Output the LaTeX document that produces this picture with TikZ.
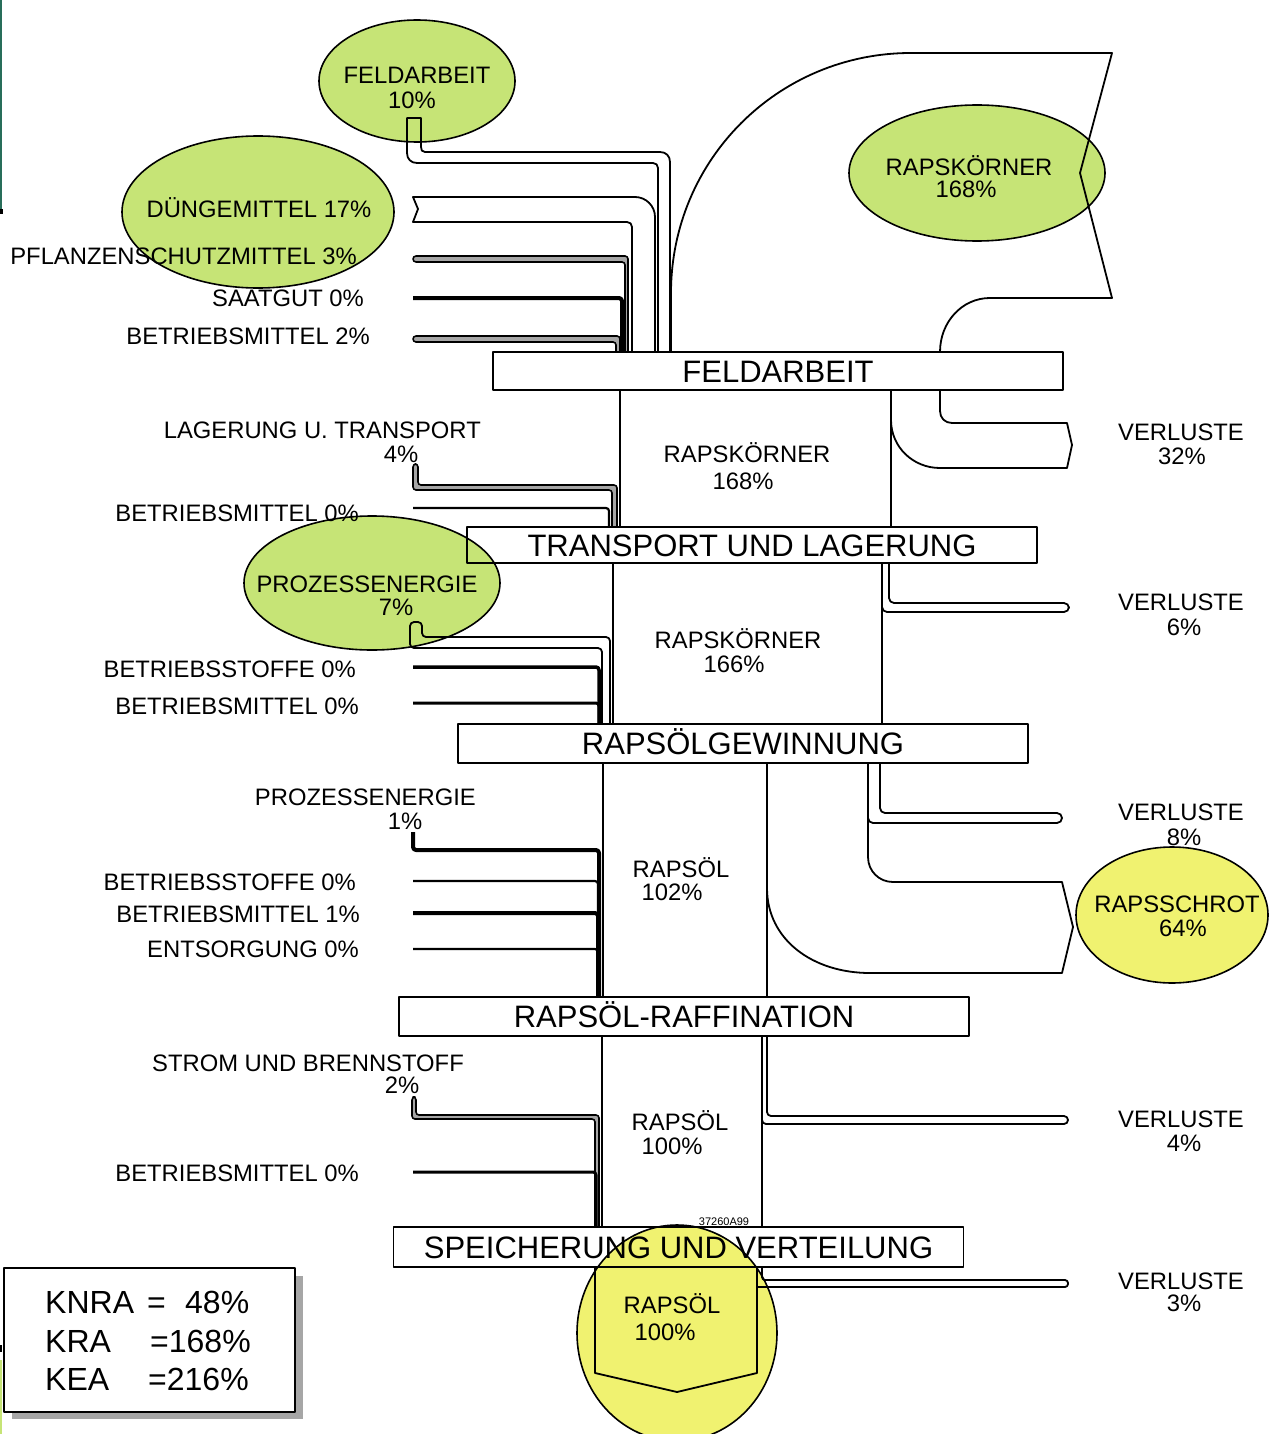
\documentclass[tikz,border=0pt]{standalone}
\usepackage{fontspec}
\setmainfont{Liberation Sans}
\definecolor{lgreen}{RGB}{198,228,118}
\definecolor{lyellow}{RGB}{240,242,112}
\definecolor{edgeteal}{RGB}{40,110,90}
\begin{document}
\begin{tikzpicture}[x=1pt,y=-1pt,line join=round,
  ln/.style={draw=black,line width=1.8pt},
  thinband/.style={draw=black,line width=1.6pt,fill=black!35,rounded corners=3pt},
  feed/.style={draw=black,line width=#1,rounded corners=3pt},
  bar/.style={draw=black,line width=1.8pt,fill=white,minimum width=570pt,
    font=\fontsize{31}{31}\selectfont,text height=22pt,text depth=0pt,inner sep=0pt},
  lab/.style={font=\fontsize{23.8}{24}\selectfont,text height=16.5pt,text depth=0pt,inner sep=0pt},
  tiny/.style={font=\fontsize{11}{11}\selectfont,inner sep=0pt},
  leg/.style={font=\fontsize{32}{32}\selectfont,inner sep=0pt},
  gell/.style={draw=black,line width=1.6pt,fill=lgreen,blend mode=multiply},
  yell/.style={draw=black,line width=1.6pt,fill=lyellow,blend mode=multiply}]
\useasboundingbox (0,0) rectangle (1270,1434);
% edge artifacts
\fill[edgeteal] (0,0) rectangle (2,210);
\fill[black] (0,209) rectangle (3,214);
\fill[black] (0,1345) rectangle (2,1352);
\fill[lgreen] (0,1360) rectangle (2,1434);

% ---- main columns
\draw[ln] (620,390) -- (620,527);
\draw[ln] (891,390) -- (891,527);
\draw[ln] (613,563) -- (613,724);
\draw[ln] (882,563) -- (882,724);
\draw[ln] (603,763) -- (603,997);
\draw[ln] (767,763) -- (767,997);
\draw[ln] (602,1036) -- (602,1227);
\draw[ln] (762,1036) -- (762,1227);

% ---- product flow RAPSKOERNER 168%
\draw[ln] (671,352) -- (671,293) .. controls (671,160) and (778,53) .. (911,53) -- (1112,53) -- (1080,173) -- (1112,298) -- (990,298) .. controls (962,298) and (940,322) .. (940,352);

% ---- outputs
\draw[ln] (940,390) -- (940,411) .. controls (940,418) and (945,423) .. (952,423) -- (1067,423) -- (1072,445) -- (1067,468) -- (940,468) .. controls (913,468) and (891,447) .. (891,420);
\draw[ln,rounded corners=5pt] (889,563) -- (889,603) -- (1069,603) -- (1069,612) -- (882,612) -- (882,600);
\draw[ln,rounded corners=5pt] (880,763) -- (880,813) -- (1062,813) -- (1062,823) -- (868,823) -- (868,812);
\draw[ln] (868,763) -- (868,857) .. controls (868,871) and (879,882) .. (893,882) -- (1062,882) -- (1073,927) -- (1062,973) -- (870,973) .. controls (813,973) and (767,940) .. (767,888);
\draw[ln,rounded corners=4pt] (767,1036) -- (767,1116) -- (1068,1116) -- (1068,1124) -- (762,1124) -- (762,1114);
\draw[ln,rounded corners=3pt] (762,1267) -- (762,1280) -- (1068,1280) -- (1068,1287) -- (757,1287);
\draw[ln] (595,1267) -- (595,1373) -- (677,1392) -- (757,1373) -- (757,1267);

% ---- inputs stage 1
\draw[ln] (658,352) -- (658,168) .. controls (658,165) and (656,163) .. (653,163) -- (417,163) .. controls (411,163) and (407,159) .. (407,153) -- (407,118) -- (421,118) -- (421,147) .. controls (421,150) and (422,152) .. (425,152) -- (660,152) .. controls (666,152) and (670,156) .. (670,162) -- (670,352);
\draw[ln] (632,352) -- (632,227) .. controls (632,224) and (630,222) .. (627,222) -- (413,222) -- (418,209) -- (413,197) -- (635,197) .. controls (646,197) and (655,206) .. (655,217) -- (655,352);
\draw[thinband] (625,352) -- (625,262) -- (413,262) -- (413,256) -- (628,256) -- (628,352);
\draw[feed=4pt] (413,298) -- (622,298) -- (622,352);
\draw[thinband] (616,352) -- (616,342) -- (413,342) -- (413,336) -- (620,336) -- (620,352);

% ---- inputs stage 2
\draw[thinband] (612,527) -- (612,490) -- (413,490) -- (413,464) -- (418,464) -- (418,485) -- (617,485) -- (617,527);
\draw[feed=2.2pt] (413,508) -- (609,508) -- (609,527);

% ---- inputs stage 3
\draw[ln,rounded corners=4pt] (602,724) -- (602,648) -- (410,648) -- (410,622) -- (422,622) -- (422,637) -- (610,637) -- (610,724);
\draw[feed=3.5pt] (413,667) -- (599,667) -- (599,724);
\draw[feed=3pt] (413,703) -- (599,703) -- (599,724);

% ---- inputs stage 4
\draw[feed=4pt] (413,832) -- (413,850) -- (599,850) -- (599,997);
\draw[feed=2.2pt] (413,881) -- (598,881) -- (598,997);
\draw[feed=4pt] (413,913) -- (598,913) -- (598,997);
\draw[feed=2.2pt] (413,949) -- (598,949) -- (598,997);

% ---- inputs stage 5
\draw[thinband] (595,1227) -- (595,1119) -- (412,1119) -- (412,1097) -- (416,1097) -- (416,1115) -- (599,1115) -- (599,1227);
\draw[feed=3pt] (413,1172) -- (596,1172) -- (596,1227);

% ---- stage bars
\node[bar,minimum height=38pt] (b1) at (778,371) {FELDARBEIT};
\node[bar,minimum height=36pt] (b2) at (752,545) {TRANSPORT UND LAGERUNG};
\node[bar,minimum height=39pt] (b3) at (743,743.5) {RAPSÖLGEWINNUNG};
\node[bar,minimum height=39pt] (b4) at (684,1016.5) {RAPSÖL-RAFFINATION};
\node[bar,minimum height=40pt] (b5) at (678.5,1247) {SPEICHERUNG UND VERTEILUNG};

% ---- labels
\node[lab] (t1a) at (417,75) {FELDARBEIT};
\node[lab] (t1b) at (412,100) {10\%};
\node[lab] (t2) at (259,209) {DÜNGEMITTEL 17\%};
\node[lab,anchor=east] (t3) at (357,256) {PFLANZENSCHUTZMITTEL 3\%};
\node[lab,anchor=east] (t4) at (364,298) {SAATGUT 0\%};
\node[lab,anchor=east] (t5) at (370,336) {BETRIEBSMITTEL 2\%};
\node[lab] (t6a) at (969,167) {RAPSKÖRNER};
\node[lab] (t6b) at (966,189) {168\%};

\node[lab,anchor=east] (t7a) at (481,430) {LAGERUNG U. TRANSPORT};
\node[lab] (t7b) at (401,454) {4\%};
\node[lab,anchor=east] (t8) at (359,513) {BETRIEBSMITTEL 0\%};
\node[lab] (c1a) at (747,454) {RAPSKÖRNER};
\node[lab] (c1b) at (743,481) {168\%};

\node[lab] (t9a) at (367,584) {PROZESSENERGIE};
\node[lab] (t9b) at (396,607) {7\%};
\node[lab,anchor=east] (t10) at (356,669) {BETRIEBSSTOFFE 0\%};
\node[lab,anchor=east] (t11) at (359,706) {BETRIEBSMITTEL 0\%};
\node[lab] (c2a) at (738,640) {RAPSKÖRNER};
\node[lab] (c2b) at (734,664) {166\%};

\node[lab,anchor=east] (t12a) at (476,797) {PROZESSENERGIE};
\node[lab] (t12b) at (405,821) {1\%};
\node[lab,anchor=east] (t13) at (356,882) {BETRIEBSSTOFFE 0\%};
\node[lab,anchor=east] (t14) at (360,914) {BETRIEBSMITTEL 1\%};
\node[lab,anchor=east] (t15) at (359,949) {ENTSORGUNG 0\%};
\node[lab] (c3a) at (681,869) {RAPSÖL};
\node[lab] (c3b) at (672,892) {102\%};

\node[lab,anchor=east] (t16a) at (464,1063) {STROM UND BRENNSTOFF};
\node[lab] (t16b) at (402,1085) {2\%};
\node[lab,anchor=east] (t17) at (359,1173) {BETRIEBSMITTEL 0\%};
\node[lab] (c4a) at (680,1122) {RAPSÖL};
\node[lab] (c4b) at (672,1146) {100\%};
\node[tiny] (code) at (724,1222) {37260A99};

\node[lab] (o0a) at (672,1305) {RAPSÖL};
\node[lab] (o0b) at (665,1332) {100\%};

\node[lab] (v1a) at (1181,432) {VERLUSTE};
\node[lab] (v1b) at (1182,456) {32\%};
\node[lab] (v2a) at (1181,602) {VERLUSTE};
\node[lab] (v2b) at (1184,627) {6\%};
\node[lab] (v3a) at (1181,812) {VERLUSTE};
\node[lab] (v3b) at (1184,837) {8\%};
\node[lab] (r1a) at (1177,904) {RAPSSCHROT};
\node[lab] (r1b) at (1183,928) {64\%};
\node[lab] (v4a) at (1181,1119) {VERLUSTE};
\node[lab] (v4b) at (1184,1143) {4\%};
\node[lab] (v5a) at (1181,1281) {VERLUSTE};
\node[lab] (v5b) at (1184,1303) {3\%};

% ---- highlight ellipses
\draw[gell] (417,81) ellipse [x radius=98, y radius=61];
\draw[gell] (258,212) ellipse [x radius=136, y radius=76];
\draw[gell] (977,173) ellipse [x radius=128, y radius=68];
\draw[gell] (372,583) ellipse [x radius=128, y radius=67];
\draw[yell] (1172,915) ellipse [x radius=96, y radius=68];
\draw[yell] (677,1333) ellipse [x radius=100, y radius=108];

% ---- legend
\fill[black!35] (12,1276) rectangle (303,1419);
\node[draw=black,line width=1.8pt,fill=white,minimum width=291pt,minimum height=144pt,inner sep=0pt] (legend) at (149.5,1340) {};
\node[leg,anchor=base west] (k1) at (45,1313) {KNRA};
\node[leg,anchor=base west] (k1e) at (147,1313) {=};
\node[leg,anchor=base west] (k1v) at (185,1313) {48\%};
\node[leg,anchor=base west] (k2) at (45,1352) {KRA};
\node[leg,anchor=base west] (k2v) at (150,1352) {=168\%};
\node[leg,anchor=base west] (k3) at (45,1390) {KEA};
\node[leg,anchor=base west] (k3v) at (148,1390) {=216\%};
\end{tikzpicture}
\end{document}
